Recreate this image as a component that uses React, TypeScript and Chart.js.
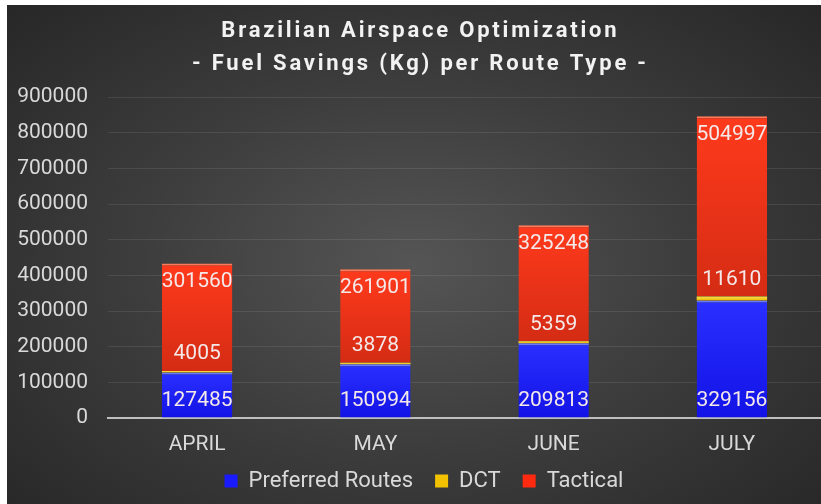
import React, { useEffect, useRef } from "react";
import { Chart, registerables } from "chart.js";

Chart.register(...registerables);

const months = ["APRIL", "MAY", "JUNE", "JULY"];
const preferredRoutes = [127485, 150994, 209813, 329156];
const dct = [4005, 3878, 5359, 11610];
const tactical = [301560, 261901, 325248, 504997];
const seriesNames = ["Preferred Routes", "DCT", "Tactical"];
const titleLines = ["Brazilian Airspace Optimization", "- Fuel Savings (Kg) per Route Type -"];

const seriesColors = [
  { top: "#2a30ff", bottom: "#1212e6", edge: "#6a78ff", key: "#1a1aff" },
  { top: "#ffe04a", bottom: "#e6b800", edge: "#fff07a", key: "#f2c200" },
  { top: "#ff3a1c", bottom: "#d42c14", edge: "#ff7a5a", key: "#ff2a10" },
];

const allSeries = [preferredRoutes, dct, tactical];

function cum(d: number, i: number) {
  let s = 0;
  for (let k = 0; k <= d; k++) s += allSeries[k][i];
  return s;
}

const helperPlugin = {
  id: "helpers",
  afterInit(chart: any) {
    const lg = chart.legend;
    if (lg) {
      const fit = lg.fit;
      lg.fit = function (this: any) {
        fit.call(this);
        this.height = 46;
      };
      const draw = lg.draw;
      lg.draw = function (this: any, ...a: any[]) {
        const ctx = this.ctx;
        ctx.save();
        ctx.translate(10, -10);
        draw.apply(this, a);
        ctx.restore();
      };
    }
    const tb = chart.titleBlock;
    if (tb) {
      const draw = tb.draw;
      tb.draw = function (this: any, ...a: any[]) {
        const ctx = this.ctx;
        ctx.save();
        (ctx as any).letterSpacing = "2.8px";
        ctx.translate(6.4, 0);
        draw.apply(this, a);
        ctx.restore();
      };
    }
  },
  afterDatasetsDraw(chart: any) {
    const ctx = chart.ctx;
    ctx.save();
    ctx.font = "21px Roboto";
    ctx.fillStyle = "#f4e8e8";
    ctx.textAlign = "center";
    ctx.textBaseline = "middle";
    chart.data.datasets.forEach((ds: any, d: number) => {
      const meta = chart.getDatasetMeta(d);
      meta.data.forEach((bar: any, i: number) => {
        const v = ds.data[i];
        let y = 0;
        if (d === 0) y = bar.base - 17;
        else if (d === 1) y = bar.y - 17;
        else y = bar.y + 18;
        ctx.fillText(String(v), bar.x, y);
      });
    });
    ctx.restore();
  },
};

function makeBg(d: number) {
  return (c: any) => {
    const chart = c.chart;
    const y = chart.scales?.y;
    const i = c.dataIndex;
    const col = seriesColors[d];
    if (!y || i === undefined || !chart.chartArea) return col.top;
    const t = y.getPixelForValue(cum(d, i));
    const b = y.getPixelForValue(d === 0 ? 0 : cum(d - 1, i));
    if (!isFinite(t) || !isFinite(b) || Math.abs(b - t) < 1) return col.top;
    const g = chart.ctx.createLinearGradient(0, t, 0, b);
    g.addColorStop(0, col.top);
    g.addColorStop(1, col.bottom);
    return g;
  };
}

export default function App() {
  const ref = useRef<HTMLCanvasElement>(null);
  useEffect(() => {
    if (!ref.current) return;
    const chart = new Chart(ref.current, {
      type: "bar",
      data: {
        labels: months,
        datasets: allSeries.map((s, d) => ({
          label: seriesNames[d],
          data: s,
          backgroundColor: makeBg(d),
          borderColor: seriesColors[d].edge,
          borderWidth: d === 1 ? 0 : { top: 2, left: 0, right: 0, bottom: 0 },
          borderSkipped: false,
          barPercentage: 0.79,
          categoryPercentage: 0.5,
        })) as any,
      },
      options: {
        animation: false,
        responsive: false,
        maintainAspectRatio: false,
        layout: { padding: { left: 0, right: 0, top: 0, bottom: 0 } },
        plugins: {
          title: {
            display: true,
            text: titleLines,
            color: "#f2f2f2",
            font: { family: "Roboto", size: 22, weight: "bold", lineHeight: 1.5 },
            padding: { top: 10, bottom: 16 },
          },
          legend: {
            position: "bottom",
            labels: {
              color: "#d9d9d9",
              font: { family: "Roboto", size: 22 },
              boxWidth: 13,
              boxHeight: 13,
              padding: 22,
              generateLabels: (ch: any) =>
                ch.data.datasets.map((ds: any, d: number) => ({
                  text: ds.label,
                  fillStyle: seriesColors[d].key,
                  strokeStyle: seriesColors[d].key,
                  lineWidth: 0,
                  fontColor: "#d9d9d9",
                  datasetIndex: d,
                  hidden: false,
                })),
            },
          },
          tooltip: { enabled: false },
        },
        scales: {
          x: {
            stacked: true,
            grid: { display: false },
            border: { display: true, color: "#bfbfbf", width: 2 },
            ticks: { color: "#d9d9d9", font: { family: "Roboto", size: 21 }, padding: 6 },
            afterFit: (s: any) => {
              s.height = 40;
            },
          },
          y: {
            stacked: true,
            min: 0,
            max: 900000,
            grid: { color: "rgba(255,255,255,0.09)", drawTicks: false, lineWidth: 1 },
            border: { display: false },
            ticks: {
              stepSize: 100000,
              color: "#d9d9d9",
              font: { family: "Roboto", size: 21 },
              padding: 20,
              callback: (v: any) => String(v),
            },
            afterFit: (s: any) => {
              s.width = 101;
            },
          },
        },
      },
      plugins: [helperPlugin],
    });
    return () => chart.destroy();
  }, []);

  return (
    <div
      style={{
        position: "absolute",
        left: 7,
        top: 5,
        width: 814,
        height: 499,
        background:
          "radial-gradient(ellipse 75% 80% at 50% 52%, #555555 0%, #3d3d3d 45%, #242424 100%)",
      }}
    >
      <canvas ref={ref} width={814} height={499} style={{ display: "block" }} />
    </div>
  );
}
